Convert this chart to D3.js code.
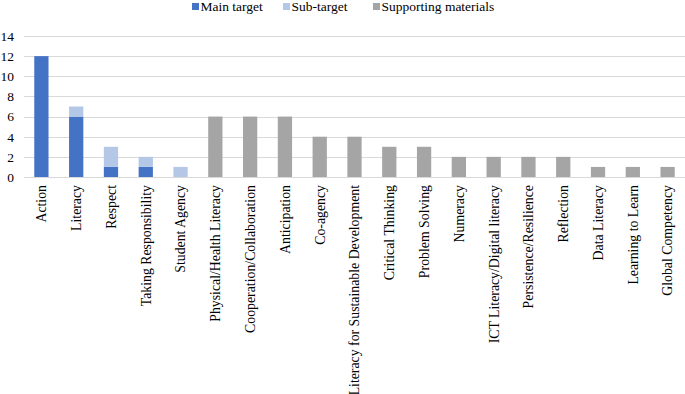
<!DOCTYPE html>
<html>
<head>
<meta charset="utf-8">
<script src="https://cdn.jsdelivr.net/npm/d3@7"></script>
<style>
  body { margin: 0; background: #fff; }
  svg { display: block; }
  svg text { font-family: "Liberation Serif", "Times New Roman", Times, serif; }
</style>
</head>
<body>
<svg id="chart"></svg>
<script>
const categories = ['Action', 'Literacy', 'Respect', 'Taking Responsibility', 'Student Agency',
  'Physical/Health Literacy', 'Cooperation/Collaboration', 'Anticipation', 'Co-agency',
  'Literacy for Sustainable Development', 'Critical Thinking', 'Problem Solving', 'Numeracy',
  'ICT Literacy/Digital literacy', 'Persistence/Resilience', 'Reflection', 'Data Literacy',
  'Learning to Learn', 'Global Competency']
const mainTarget = [12, 6, 1, 1, 0, 0, 0, 0, 0, 0, 0, 0, 0, 0, 0, 0, 0, 0, 0]
const subTarget = [0, 1, 2, 1, 1, 0, 0, 0, 0, 0, 0, 0, 0, 0, 0, 0, 0, 0, 0]
const supporting = [0, 0, 0, 0, 0, 6, 6, 6, 4, 4, 3, 3, 2, 2, 2, 2, 1, 1, 1]
const seriesNames = ['Main target', 'Sub-target', 'Supporting materials']
const yTicks = [0, 2, 4, 6, 8, 10, 12, 14]

const width = 685
const height = 394
const margin = { top: 36, right: 0, bottom: 217, left: 24 }
const colors = ['#4472C4', '#B4C7E7', '#A5A5A5']
const serif = '"Liberation Serif", "Times New Roman", Times, serif'

const svg = d3.select('#chart').attr('width', width).attr('height', height)

const rows = categories.map((c, i) => ({
  cat: c, 'Main target': mainTarget[i], 'Sub-target': subTarget[i], 'Supporting materials': supporting[i]
}))
const stacked = d3.stack().keys(seriesNames)(rows)

const x = d3.scaleBand().domain(categories)
  .range([margin.left, width - margin.right])
  .paddingInner(0.59).paddingOuter(0.295)
const y = d3.scaleLinear().domain([0, 14]).range([height - margin.bottom, margin.top])

// gridlines
svg.append('g').selectAll('line').data(yTicks).enter()
  .append('line')
  .attr('x1', margin.left).attr('x2', width - margin.right)
  .attr('y1', d => Math.round(y(d)) + 0.5).attr('y2', d => Math.round(y(d)) + 0.5)
  .attr('stroke', '#D9D9D9').attr('stroke-width', 1)

// bars
svg.append('g').selectAll('g').data(stacked).enter()
  .append('g').attr('fill', (d, i) => colors[i])
  .selectAll('rect').data(d => d.filter(p => p[1] > p[0])).enter()
  .append('rect')
  .attr('x', d => x(d.data.cat))
  .attr('width', x.bandwidth())
  .attr('y', d => y(d[1]))
  .attr('height', d => y(d[0]) - y(d[1]))

// y axis labels
const yAxis = d3.axisLeft(y).tickValues(yTicks).tickSize(0).tickPadding(10)
svg.append('g').attr('transform', `translate(${margin.left},0)`).call(yAxis)
  .attr('font-family', serif)
  .call(g => g.select('.domain').remove())
  .selectAll('text')
  .style('font-family', serif).style('font-size', '13.5px').attr('fill', '#000')

// x axis labels
svg.append('g').selectAll('text').data(categories).enter()
  .append('text')
  .attr('transform', d => `translate(${x(d) + x.bandwidth() / 2},${y(0) + 8}) rotate(-90)`)
  .attr('text-anchor', 'end')
  .attr('dy', '0.35em')
  .style('font-family', serif)
  .style('font-size', '13.8px')
  .attr('fill', '#000')
  .text(d => d)

// legend
const legendX = [192, 283, 373]
const legend = svg.append('g').selectAll('g').data(seriesNames).enter()
  .append('g').attr('transform', (d, i) => `translate(${legendX[i]},0)`)
legend.append('rect').attr('x', 0).attr('y', 3).attr('width', 7).attr('height', 7)
  .attr('fill', (d, i) => colors[i])
legend.append('text').attr('x', 8.5).attr('y', 10.5)
  .style('font-family', serif)
  .style('font-size', '13.5px').attr('fill', '#000').text(d => d)
</script>
</body>
</html>
